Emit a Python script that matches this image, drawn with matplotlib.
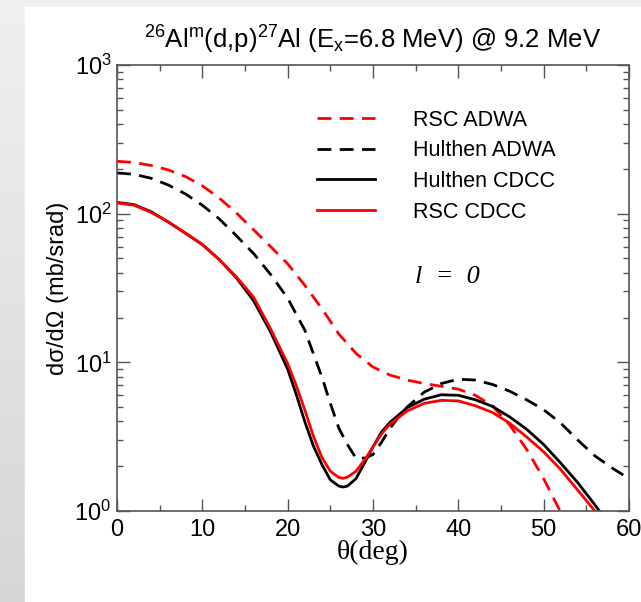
import numpy as np
import matplotlib
matplotlib.use("Agg")
import matplotlib.pyplot as plt
from matplotlib.ticker import MultipleLocator, LogLocator, NullFormatter
from matplotlib.patches import Rectangle

plt.rcParams['font.family'] = ['Liberation Sans', 'DejaVu Sans']
plt.rcParams['mathtext.fontset'] = 'custom'
plt.rcParams['mathtext.rm'] = 'Liberation Sans'
plt.rcParams['mathtext.it'] = 'Liberation Sans:italic'
plt.rcParams['mathtext.bf'] = 'Liberation Sans:bold'

# angles (deg) and cross sections (mb/srad)
theta_rsc_adwa = [0, 2, 4, 6, 8, 10, 12, 14, 16, 18, 20, 22, 24, 26, 28, 30,
                  32, 34, 36, 38, 40, 42, 44, 46, 48, 50, 52, 53]
rsc_adwa = [225, 221, 211, 197, 178, 154, 127, 101, 78, 60, 46, 33, 23, 15.5,
            11.5, 9.3, 8.2, 7.6, 7.2, 6.9, 6.6, 6.0, 5.1, 3.8, 2.6, 1.65, 0.98, 0.8]

theta_hul_adwa = [0, 2, 4, 6, 8, 10, 12, 14, 16, 18, 20, 22, 24, 25, 26, 27,
                  28, 29.1, 30, 31, 32, 33, 34, 36, 38, 40, 42, 44, 46, 48,
                  50, 52, 54, 56, 58, 60]
hul_adwa = [188, 184, 173, 156, 136, 114, 92, 71, 54, 39, 27, 16.5, 8.0, 5.3,
            3.6, 2.8, 2.27, 2.27, 2.4, 2.9, 3.6, 4.3, 5.0, 6.3, 7.2, 7.7, 7.6,
            7.1, 6.4, 5.6, 4.8, 3.9, 3.0, 2.35, 1.95, 1.65]

theta_cdcc = [0, 2, 4, 6, 8, 10, 12, 14, 16, 18, 20, 21, 22, 23, 24, 25, 26,
              26.5, 27, 28, 29, 30, 31, 32, 34, 36, 38, 40, 42, 44, 46, 48,
              50, 52, 54, 56, 57]
hul_cdcc = [119, 115, 103, 88, 74, 62, 49, 37, 26, 16, 9.0, 6.1, 4.0, 2.75,
            2.06, 1.62, 1.47, 1.45, 1.47, 1.65, 2.1, 2.7, 3.4, 3.95, 4.95,
            5.65, 6.05, 6.0, 5.6, 5.05, 4.3, 3.55, 2.8, 2.1, 1.55, 1.1, 0.92]
rsc_cdcc = [118, 114, 102, 88, 74, 62, 49, 37.5, 27.5, 16.8, 9.8, 7.0, 4.8,
            3.2, 2.3, 1.85, 1.68, 1.66, 1.69, 1.85, 2.2, 2.7, 3.3, 3.85, 4.7,
            5.3, 5.55, 5.5, 5.1, 4.6, 3.9, 3.15, 2.5, 1.9, 1.38, 1.0, 0.88]

fig = plt.figure(figsize=(6.41, 6.02), dpi=100)

# light grey slide border on the left / top
bg = fig.add_axes([0, 0, 1, 1], zorder=-10)
shade = np.linspace(0.94, 0.84, 64).reshape(-1, 1, 1) * np.ones((1, 64, 3))
bg.imshow(shade, aspect='auto', extent=[0, 1, 0, 1])
bg.set_axis_off()
fig.patches.append(Rectangle((25 / 641, 0), 1, 1 - 7 / 602,
                             transform=fig.transFigure, color='white',
                             zorder=-5))

ax = fig.add_axes([117 / 641, 91 / 602, 512 / 641, 446 / 602])
ax.set_facecolor('none')

dash = (5, 3)
lw = 2.0
ax.plot(theta_rsc_adwa, rsc_adwa, color='red', lw=lw, dashes=dash,
        label='RSC ADWA')
ax.plot(theta_hul_adwa, hul_adwa, color='black', lw=lw, dashes=dash,
        label='Hulthen ADWA')
ax.plot(theta_cdcc, hul_cdcc, color='black', lw=lw, label='Hulthen CDCC')
ax.plot(theta_cdcc, rsc_cdcc, color='red', lw=lw, label='RSC CDCC')

ax.set_yscale('log')
ax.set_xlim(0, 60)
ax.set_ylim(1, 1000)
ax.xaxis.set_major_locator(MultipleLocator(10))
ax.xaxis.set_minor_locator(MultipleLocator(5))
ax.yaxis.set_minor_locator(LogLocator(base=10, subs=np.arange(2, 10)))
ax.yaxis.set_minor_formatter(NullFormatter())

for s in ax.spines.values():
    s.set_color('#555555')
    s.set_linewidth(1.2)
ax.tick_params(which='both', direction='in', top=True, right=True,
               color='#555555', width=1.0, labelsize=17)
ax.tick_params(which='major', length=9)
ax.tick_params(which='minor', length=4.5)
ax.tick_params(axis='x', pad=6)
ax.tick_params(axis='y', pad=4)

ax.set_title(r'$^{26}$Al$\mathregular{^{m}}$(d,p)$^{27}$Al '
             r'(E$\mathregular{_{x}}$=6.8 MeV) @ 9.2 MeV',
             fontsize=18.5, pad=12)
ax.set_ylabel('dσ/dΩ (mb/srad)', fontsize=17, labelpad=4)
ax.set_xlabel('θ(deg)', fontsize=20, family=['Liberation Serif'],
              labelpad=-1)

ax.text(0.582, 0.511, 'l  =  0', transform=ax.transAxes, fontsize=19,
        family=['Liberation Serif'], style='italic', va='baseline')

ax.legend(loc='upper left', bbox_to_anchor=(0.39, 0.9), frameon=False,
          fontsize=15.5, handlelength=2.71, handletextpad=1.75,
          labelspacing=0.45, borderaxespad=0, borderpad=0)

fig.savefig('out.png', dpi=100)
